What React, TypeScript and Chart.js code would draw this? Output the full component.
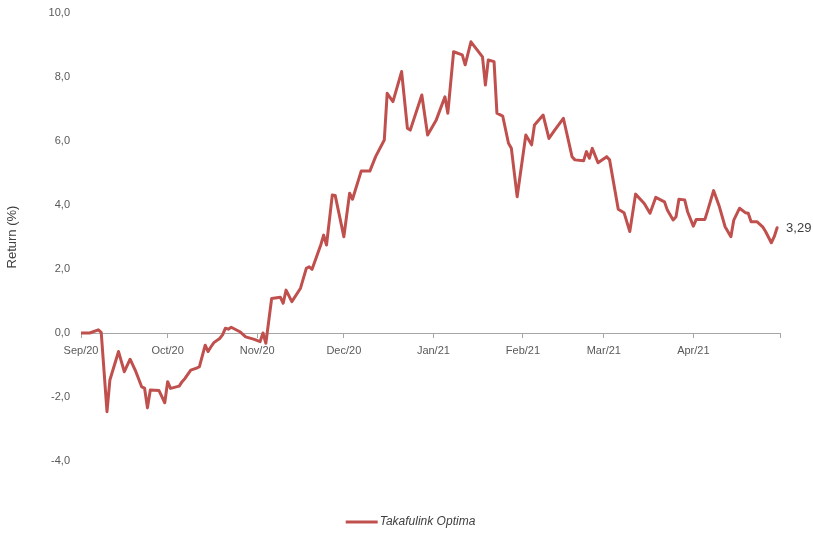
import React, { useEffect, useRef } from "react";
import { Chart, registerables } from "chart.js";

Chart.register(...registerables);

const seriesName = "Takafulink Optima";
const axisTitle = "Return (%)";
const lastValueLabel = "3,29";

const dates = [
  "2020-09-01", "2020-09-04", "2020-09-07", "2020-09-08", "2020-09-10", "2020-09-11",
  "2020-09-14", "2020-09-16", "2020-09-18", "2020-09-20", "2020-09-22", "2020-09-23",
  "2020-09-24", "2020-09-25", "2020-09-28", "2020-09-29", "2020-09-30", "2020-10-01",
  "2020-10-02", "2020-10-05", "2020-10-06", "2020-10-07", "2020-10-09", "2020-10-11",
  "2020-10-12", "2020-10-14", "2020-10-15", "2020-10-16", "2020-10-17", "2020-10-19",
  "2020-10-20", "2020-10-21", "2020-10-22", "2020-10-23", "2020-10-26", "2020-10-28",
  "2020-10-31", "2020-11-02", "2020-11-03", "2020-11-04", "2020-11-06", "2020-11-09",
  "2020-11-10", "2020-11-11", "2020-11-13", "2020-11-16", "2020-11-18", "2020-11-19",
  "2020-11-20", "2020-11-23", "2020-11-24", "2020-11-25", "2020-11-27", "2020-11-28",
  "2020-12-01", "2020-12-03", "2020-12-04", "2020-12-07", "2020-12-10", "2020-12-12",
  "2020-12-15", "2020-12-16", "2020-12-18", "2020-12-21", "2020-12-23", "2020-12-24",
  "2020-12-28", "2020-12-30", "2021-01-02", "2021-01-05", "2021-01-06", "2021-01-08",
  "2021-01-11", "2021-01-12", "2021-01-14", "2021-01-18", "2021-01-19", "2021-01-20",
  "2021-01-22", "2021-01-23", "2021-01-25", "2021-01-27", "2021-01-28", "2021-01-30",
  "2021-02-02", "2021-02-04", "2021-02-05", "2021-02-08", "2021-02-10", "2021-02-12",
  "2021-02-15", "2021-02-18", "2021-02-19", "2021-02-22", "2021-02-23", "2021-02-24",
  "2021-02-25", "2021-02-27", "2021-03-02", "2021-03-03", "2021-03-06", "2021-03-08",
  "2021-03-10", "2021-03-12", "2021-03-15", "2021-03-17", "2021-03-19", "2021-03-22",
  "2021-03-23", "2021-03-25", "2021-03-26", "2021-03-27", "2021-03-29", "2021-03-30",
  "2021-04-01", "2021-04-02", "2021-04-05", "2021-04-06", "2021-04-08", "2021-04-10",
  "2021-04-12", "2021-04-14", "2021-04-15", "2021-04-17", "2021-04-19", "2021-04-20",
  "2021-04-21", "2021-04-23", "2021-04-25", "2021-04-26", "2021-04-28", "2021-04-29",
  "2021-04-30",
];

const returns = [
  0.0, 0.0, 0.1, 0.02, -2.46, -1.47,
  -0.58, -1.21, -0.82, -1.21, -1.68, -1.72,
  -2.34, -1.78, -1.8, -1.99, -2.18, -1.52,
  -1.73, -1.66, -1.52, -1.42, -1.16, -1.1,
  -1.05, -0.38, -0.58, -0.43, -0.3, -0.17,
  -0.06, 0.15, 0.12, 0.18, 0.04, -0.12,
  -0.2, -0.27, 0.0, -0.32, 1.08, 1.12,
  0.93, 1.34, 0.98, 1.4, 2.02, 2.07,
  1.99, 2.75, 3.06, 2.75, 4.31, 4.3,
  3.01, 4.37, 4.18, 5.06, 5.06, 5.51,
  6.03, 7.49, 7.23, 8.17, 6.4, 6.34,
  7.44, 6.19, 6.66, 7.38, 6.87, 8.79,
  8.69, 8.38, 9.1, 8.63, 7.75, 8.53,
  8.48, 6.87, 6.78, 5.93, 5.77, 4.26,
  6.19, 5.88, 6.5, 6.81, 6.08, 6.34,
  6.71, 5.51, 5.41, 5.38, 5.67, 5.46,
  5.77, 5.32, 5.51, 5.41, 3.87, 3.76,
  3.17, 4.34, 4.05, 3.74, 4.24, 4.1,
  3.84, 3.53, 3.63, 4.18, 4.16, 3.79,
  3.34, 3.55, 3.55, 3.84, 4.45, 3.95,
  3.32, 3.01, 3.53, 3.9, 3.76, 3.74,
  3.48, 3.48, 3.32, 3.17, 2.82, 3.01,
  3.29,
];

const monthTickDates = [
  "2020-09-01", "2020-10-01", "2020-11-01", "2020-12-01", "2021-01-01",
  "2021-02-01", "2021-03-01", "2021-04-01", "2021-05-01",
];
const monthTickLabels = [
  "Sep/20", "Oct/20", "Nov/20", "Dec/20", "Jan/21", "Feb/21", "Mar/21", "Apr/21", "",
];
const yTickValues = [-4, -2, 0, 2, 4, 6, 8, 10];

const START = Date.UTC(2020, 8, 1);
function dayOf(s: string): number {
  const [y, m, d] = s.split("-").map(Number);
  return Math.round((Date.UTC(y, m - 1, d) - START) / 86400000);
}
function fmt(v: number): string {
  return v.toFixed(1).replace(".", ",");
}

const FONT = '"Liberation Sans", Arial, sans-serif';
const LINE_COLOR = "#C0504D";
const TEXT_COLOR = "#595959";
const AXIS_COLOR = "#A6A6A6";

const endLabelPlugin = {
  id: "endLabel",
  afterDatasetsDraw(chart: any) {
    const meta = chart.getDatasetMeta(0);
    const pt = meta.data[meta.data.length - 1];
    if (!pt) return;
    const ctx = chart.ctx;
    ctx.save();
    ctx.font = `13px ${FONT}`;
    ctx.fillStyle = "#404040";
    ctx.textAlign = "left";
    ctx.textBaseline = "middle";
    ctx.fillText(lastValueLabel, pt.x + 9, pt.y + 1);
    ctx.restore();
  },
};

const bottomLegendPlugin = {
  id: "bottomLegend",
  afterDraw(chart: any) {
    const ctx = chart.ctx;
    ctx.save();
    ctx.font = `italic 12px ${FONT}`;
    const textW = ctx.measureText(seriesName).width;
    const lineLen = 32;
    const gap = 2;
    const total = lineLen + gap + textW;
    const x0 = (chart.width - total) / 2 + 4;
    const y = 522;
    ctx.strokeStyle = LINE_COLOR;
    ctx.lineWidth = 3;
    ctx.beginPath();
    ctx.moveTo(x0, y);
    ctx.lineTo(x0 + lineLen, y);
    ctx.stroke();
    ctx.fillStyle = "#404040";
    ctx.textAlign = "left";
    ctx.textBaseline = "middle";
    ctx.fillText(seriesName, x0 + lineLen + gap, y);
    ctx.restore();
  },
};

export default function App() {
  const canvasRef = useRef<HTMLCanvasElement | null>(null);

  useEffect(() => {
    const canvas = canvasRef.current;
    if (!canvas) return;
    Chart.defaults.font.family = FONT;
    const chart = new Chart(canvas, {
      type: "line",
      data: {
        datasets: [
          {
            label: seriesName,
            data: dates.map((d, i) => ({ x: dayOf(d), y: returns[i] })),
            borderColor: LINE_COLOR,
            backgroundColor: LINE_COLOR,
            borderWidth: 3,
            pointRadius: 0,
            tension: 0,
            fill: false,
            borderJoinStyle: "round",
            borderCapStyle: "round",
          },
        ],
      },
      options: {
        responsive: false,
        animation: false,
        layout: { padding: { top: 13, left: 0, right: 33, bottom: 72 } },
        plugins: {
          legend: { display: false },
          tooltip: { enabled: false },
        },
        scales: {
          x: {
            type: "linear",
            position: { y: 0 } as any,
            min: 0,
            max: dayOf(monthTickDates[monthTickDates.length - 1]),
            grid: { drawOnChartArea: false, drawTicks: true, tickLength: 4, color: AXIS_COLOR },
            border: { display: true, color: AXIS_COLOR, width: 1 },
            ticks: {
              padding: 7,
              autoSkip: false,
              maxRotation: 0,
              color: TEXT_COLOR,
              font: { size: 11, family: FONT },
              callback: (_v: any, i: number) => monthTickLabels[i] ?? "",
            },
            afterBuildTicks: (scale: any) => {
              scale.ticks = monthTickDates.map((d) => ({ value: dayOf(d) }));
            },
          },
          y: {
            type: "linear",
            position: "left",
            min: yTickValues[0],
            max: yTickValues[yTickValues.length - 1],
            grid: { display: false, drawTicks: false },
            border: { display: false },
            ticks: {
              padding: 11,
              color: TEXT_COLOR,
              font: { size: 11, family: FONT },
              callback: (v: any) => fmt(Number(v)),
            },
            afterBuildTicks: (scale: any) => {
              scale.ticks = yTickValues.map((v) => ({ value: v }));
            },
            title: {
              display: true,
              text: axisTitle,
              color: "#404040",
              font: { size: 13, family: FONT },
              padding: { top: 5, bottom: 0 },
            },
            afterFit: (scale: any) => {
              scale.width = 81;
              scale.paddingTop = 0;
              scale.paddingBottom = 0;
            },
          },
        },
      },
      plugins: [endLabelPlugin, bottomLegendPlugin],
    } as any);
    return () => chart.destroy();
  }, []);

  return (
    <div style={{ position: "fixed", left: 0, top: 0, width: 813, height: 533, background: "#fff" }}>
      <canvas ref={canvasRef} width={813} height={533} style={{ display: "block" }} />
    </div>
  );
}
